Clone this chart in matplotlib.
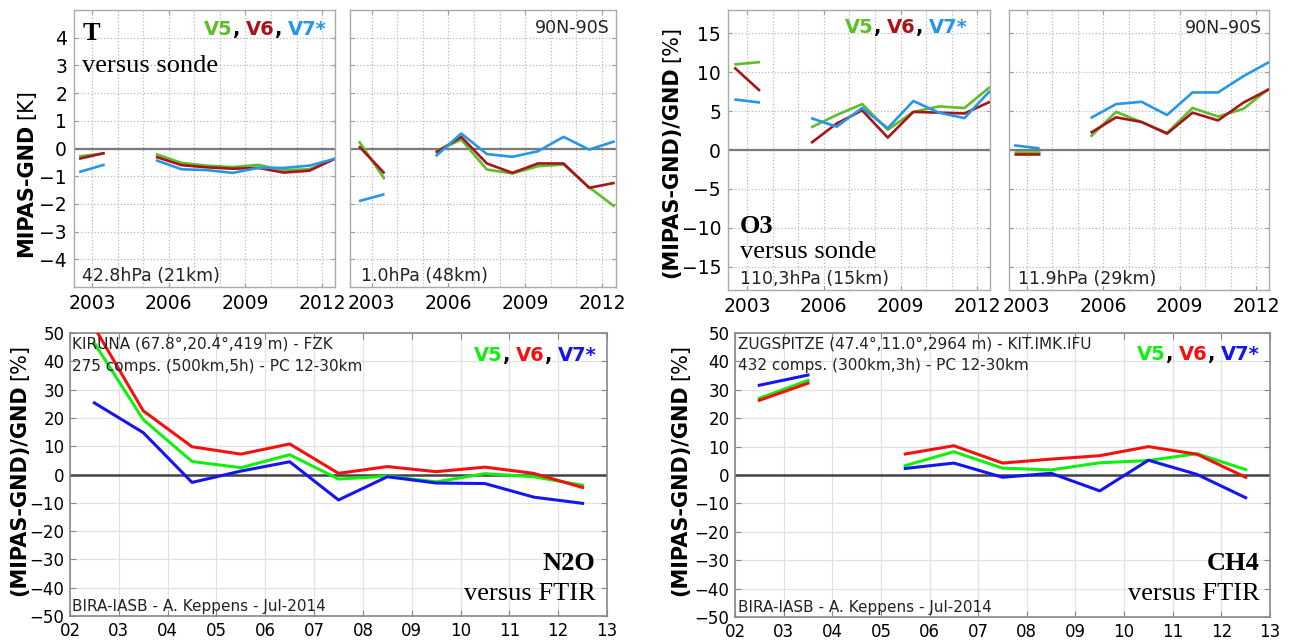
import matplotlib
matplotlib.use('Agg')
import matplotlib.pyplot as plt
from matplotlib.offsetbox import TextArea, HPacker, AnchoredOffsetbox

# ---------------------------------------------------------------- data ----
yrs_early = [2002.5, 2003.5]
yrs_late = [2005.5, 2006.5, 2007.5, 2008.5, 2009.5, 2010.5, 2011.5, 2012.5]

# T versus sonde, 42.8 hPa
t21_v5_early = [-0.28, -0.18]
t21_v6_early = [-0.37, -0.16]
t21_v7_early = [-0.85, -0.58]
t21_v5 = [-0.20, -0.52, -0.62, -0.67, -0.59, -0.78, -0.75, -0.37]
t21_v6 = [-0.30, -0.60, -0.68, -0.73, -0.70, -0.87, -0.80, -0.37]
t21_v7 = [-0.42, -0.75, -0.78, -0.88, -0.70, -0.70, -0.62, -0.37]

# T versus sonde, 1.0 hPa
t48_v5_early = [0.26, -1.10]
t48_v6_early = [0.08, -0.90]
t48_v7_early = [-1.90, -1.65]
t48_v5 = [-0.10, 0.32, -0.76, -0.90, -0.64, -0.58, -1.40, -2.10]
t48_v6 = [-0.15, 0.42, -0.54, -0.88, -0.54, -0.54, -1.42, -1.24]
t48_v7 = [-0.28, 0.54, -0.20, -0.30, -0.10, 0.42, -0.04, 0.26]

# O3 versus sonde, 110.3 hPa
o15_v5_early = [11.0, 11.3]
o15_v6_early = [10.6, 7.6]
o15_v7_early = [6.5, 6.1]
o15_v5 = [2.9, 4.5, 5.9, 2.6, 4.9, 5.6, 5.4, 8.1]
o15_v6 = [0.9, 3.4, 5.1, 1.6, 4.9, 4.8, 4.7, 6.2]
o15_v7 = [4.1, 3.0, 5.4, 2.8, 6.3, 4.8, 4.1, 7.6]

# O3 versus sonde, 11.9 hPa
o29_v5_early = [-0.2, -0.2]
o29_v6_early = [-0.5, -0.5]
o29_v7_early = [0.6, 0.2]
o29_v5 = [1.7, 4.9, 3.6, 2.2, 5.4, 4.3, 5.3, 7.9]
o29_v6 = [2.2, 4.2, 3.6, 2.1, 4.8, 3.8, 6.1, 7.8]
o29_v7 = [4.1, 5.9, 6.2, 4.5, 7.4, 7.4, 9.5, 11.3]

# N2O versus FTIR (Kiruna)
ftir_yrs = [2.5, 3.5, 4.5, 5.5, 6.5, 7.5, 8.5, 9.5, 10.5, 11.5, 12.5]
n2o_v5 = [46.4, 19.4, 4.6, 2.4, 7.0, -1.6, -0.6, -2.6, 0.3, -0.8, -3.8]
n2o_v6 = [52.0, 22.5, 9.8, 7.2, 10.8, 0.4, 2.8, 1.0, 2.6, 0.4, -4.6]
n2o_v7 = [25.3, 14.8, -2.8, 1.2, 4.5, -9.0, -0.8, -3.0, -3.2, -8.0, -10.2]

# CH4 versus FTIR (Zugspitze)
ch4_yrs_early = [2.5, 3.5]
ch4_yrs_late = [5.5, 6.5, 7.5, 8.5, 9.5, 10.5, 11.5, 12.5]
ch4_v5_early = [27.0, 33.3]
ch4_v6_early = [26.3, 32.3]
ch4_v7_early = [31.6, 35.2]
ch4_v5 = [3.3, 8.2, 2.4, 1.8, 4.3, 5.1, 7.5, 1.9]
ch4_v6 = [7.4, 10.3, 4.2, 5.6, 6.8, 10.0, 7.3, -0.8]
ch4_v7 = [2.3, 4.2, -0.8, 0.6, -5.6, 5.2, 0.2, -8.0]

# ---------------------------------------------------------------- style ---
TOP_COLORS = ['#5cbf2a', '#a8141a', '#2896e8']   # V5, V6, V7*
BOT_COLORS = ['#10f010', '#f51010', '#1515f0']
SERIF = 'Liberation Serif'
W, H = 1290, 644


def px_axes(fig, left, top, right, bottom):
    return fig.add_axes([left / W, 1 - bottom / H, (right - left) / W, (bottom - top) / H])


def version_tag(ax, colors, x, y, size):
    boxes = []
    for i, (lab, c) in enumerate(zip(['V5', 'V6', 'V7*'], colors)):
        kids = [TextArea(lab, textprops=dict(color=c, fontweight='bold', fontsize=size))]
        if i < 2:
            kids.append(TextArea(',', textprops=dict(color='k', fontweight='bold', fontsize=size)))
        boxes.append(HPacker(children=kids, sep=0, pad=0))
    pack = HPacker(children=boxes, sep=size * 0.3, pad=0)
    ab = AnchoredOffsetbox(loc='center right', child=pack, pad=0, borderpad=0, frameon=False,
                           bbox_to_anchor=(x, y), bbox_transform=ax.transAxes)
    ax.add_artist(ab)


def top_panel(ax, xlim, ylim, yticks, series_early, series_late, show_y):
    for ys, c in zip(series_early, TOP_COLORS):
        ax.plot(yrs_early, ys, color=c, lw=1.9, solid_capstyle='butt', zorder=3)
    for ys, c in zip(series_late, TOP_COLORS):
        ax.plot(yrs_late, ys, color=c, lw=1.9, solid_capstyle='butt', zorder=3)
    ax.axhline(0, color='#7a7a7a', lw=1.6, zorder=2)
    ax.set_xlim(*xlim)
    ax.set_ylim(*ylim)
    ax.set_xticks([2003, 2006, 2009, 2012])
    ax.set_xticks(range(2003, 2013), minor=True)
    ax.set_yticks(yticks)
    ax.grid(which='both', color='#b8b8b8', ls=':', lw=0.9)
    ax.tick_params(which='both', direction='in', length=3, color='#999999',
                   labelsize=13.5, top=True, right=True, pad=5)
    ax.tick_params(which='minor', length=0)
    if not show_y:
        ax.tick_params(labelleft=False)
    for s in ax.spines.values():
        s.set_color('#aaaaaa')
        s.set_linewidth(1.0)


def bottom_panel(ax, series_sets):
    for xs, sets in series_sets:
        for ys, c in zip(sets, BOT_COLORS):
            ax.plot(xs, ys, color=c, lw=2.2, zorder=3)
    ax.axhline(0, color='#444444', lw=1.8, zorder=2)
    ax.set_xlim(2, 13)
    ax.set_ylim(-50, 50)
    ax.set_xticks(range(2, 14))
    ax.set_xticklabels(['%02d' % v for v in range(2, 14)])
    ax.set_yticks(range(-50, 51, 10))
    ax.grid(color='#e2e2e2', lw=0.9)
    ax.tick_params(direction='in', length=4, color='#888888', labelsize=12,
                   top=True, right=True, pad=4)
    for s in ax.spines.values():
        s.set_color('#888888')
        s.set_linewidth(1.2)


fig = plt.figure(figsize=(W / 100, H / 100), dpi=100)

# ------------------------------------------------------------- top row ----
ax1 = px_axes(fig, 74, 10, 335, 287)
top_panel(ax1, (2002.3, 2012.5), (-5, 5), range(-4, 5),
          [t21_v5_early, t21_v6_early, t21_v7_early], [t21_v5, t21_v6, t21_v7], True)
ax1.text(0.031, 0.892, 'T', transform=ax1.transAxes, family=SERIF, fontweight='bold',
         fontsize=19, va='baseline')
ax1.text(0.031, 0.776, 'versus sonde', transform=ax1.transAxes, family=SERIF,
         fontsize=19, va='baseline')
ax1.text(0.031, 0.008, '42.8hPa (21km)', transform=ax1.transAxes, fontsize=12.5,
         va='bottom', color='#222222')
version_tag(ax1, TOP_COLORS, 0.969, 0.928, 14)

ax2 = px_axes(fig, 350, 10, 616, 287)
top_panel(ax2, (2002.15, 2012.55), (-5, 5), range(-4, 5),
          [t48_v5_early, t48_v6_early, t48_v7_early], [t48_v5, t48_v6, t48_v7], False)
ax2.text(0.977, 0.935, '90N-90S', transform=ax2.transAxes, fontsize=12.5,
         ha='right', va='center', color='#222222')
ax2.text(0.041, 0.008, '1.0hPa (48km)', transform=ax2.transAxes, fontsize=12.5,
         va='bottom', color='#222222')

ax3 = px_axes(fig, 728, 10, 990, 290)
top_panel(ax3, (2002.25, 2012.5), (-18, 18), range(-15, 16, 5),
          [o15_v5_early, o15_v6_early, o15_v7_early], [o15_v5, o15_v6, o15_v7], True)
ax3.text(0.046, 0.204, 'O3', transform=ax3.transAxes, family=SERIF, fontweight='bold',
         fontsize=19, va='baseline')
ax3.text(0.046, 0.114, 'versus sonde', transform=ax3.transAxes, family=SERIF,
         fontsize=19, va='baseline')
ax3.text(0.046, 0.008, '110,3hPa (15km)', transform=ax3.transAxes, fontsize=12.5,
         va='bottom', color='#222222')
version_tag(ax3, TOP_COLORS, 0.916, 0.936, 14)

ax4 = px_axes(fig, 1009, 10, 1269, 290)
top_panel(ax4, (2002.3, 2012.5), (-18, 18), range(-15, 16, 5),
          [o29_v5_early, o29_v6_early, o29_v7_early], [o29_v5, o29_v6, o29_v7], False)
ax4.text(0.973, 0.936, '90N\u201390S', transform=ax4.transAxes, fontsize=12.5,
         ha='right', va='center', color='#222222')
ax4.text(0.035, 0.008, '11.9hPa (29km)', transform=ax4.transAxes, fontsize=12.5,
         va='bottom', color='#222222')

# ---------------------------------------------------------- bottom row ----
ax5 = px_axes(fig, 70, 333, 607, 616)
bottom_panel(ax5, [(ftir_yrs, [n2o_v5, n2o_v6, n2o_v7])])
ax5.text(0.004, 0.961, 'KIRUNA (67.8\u00b0,20.4\u00b0,419 m) - FZK', transform=ax5.transAxes,
         fontsize=11, va='center', color='#222222')
ax5.text(0.004, 0.883, '275 comps. (500km,5h) - PC 12-30km', transform=ax5.transAxes,
         fontsize=11, va='center', color='#222222')
ax5.text(0.004, 0.032, 'BIRA-IASB - A. Keppens - Jul-2014', transform=ax5.transAxes,
         fontsize=11, va='center', color='#222222')
ax5.text(0.978, 0.187, 'N2O', transform=ax5.transAxes, family=SERIF, fontweight='bold',
         fontsize=19, ha='right', va='center')
ax5.text(0.978, 0.078, 'versus FTIR', transform=ax5.transAxes, family=SERIF,
         fontsize=19, ha='right', va='center')
version_tag(ax5, BOT_COLORS, 0.981, 0.922, 14)

ax6 = px_axes(fig, 735, 333, 1270, 617)
bottom_panel(ax6, [(ch4_yrs_early, [ch4_v5_early, ch4_v6_early, ch4_v7_early]),
                   (ch4_yrs_late, [ch4_v5, ch4_v6, ch4_v7])])
ax6.text(0.006, 0.961, 'ZUGSPITZE (47.4\u00b0,11.0\u00b0,2964 m) - KIT.IMK.IFU',
         transform=ax6.transAxes, fontsize=11, va='center', color='#222222')
ax6.text(0.006, 0.884, '432 comps. (300km,3h) - PC 12-30km', transform=ax6.transAxes,
         fontsize=11, va='center', color='#222222')
ax6.text(0.006, 0.032, 'BIRA-IASB - A. Keppens - Jul-2014', transform=ax6.transAxes,
         fontsize=11, va='center', color='#222222')
ax6.text(0.981, 0.19, 'CH4', transform=ax6.transAxes, family=SERIF, fontweight='bold',
         fontsize=19, ha='right', va='center')
ax6.text(0.981, 0.081, 'versus FTIR', transform=ax6.transAxes, family=SERIF,
         fontsize=19, ha='right', va='center')
version_tag(ax6, BOT_COLORS, 0.981, 0.923, 14)

# ------------------------------------------- y labels, bold + plain part ----
labels = [
    ('MIPAS-GND', '[K]', 26, 173),
    ('(MIPAS-GND)/GND', '[%]', 671, 152),
    ('(MIPAS-GND)/GND', '[%]', 19, 470),
    ('(MIPAS-GND)/GND', '[%]', 680, 470),
]
placed = []
for bold, plain, x, yc in labels:
    t1 = fig.text(x / W, 0.5, bold, rotation=90, fontsize=15, fontweight='bold',
                  ha='center', va='bottom')
    t2 = fig.text(x / W, 0.5, plain, rotation=90, fontsize=15, ha='center', va='bottom')
    placed.append((t1, t2, yc))

fig.canvas.draw()
renderer = fig.canvas.get_renderer()
for t1, t2, yc in placed:
    h1 = t1.get_window_extent(renderer).height
    h2 = t2.get_window_extent(renderer).height
    gap = 5
    y0 = (H - yc) - (h1 + gap + h2) / 2
    t1.set_y(y0 / H)
    t2.set_y((y0 + h1 + gap) / H)

fig.savefig('out.png', dpi=100)
